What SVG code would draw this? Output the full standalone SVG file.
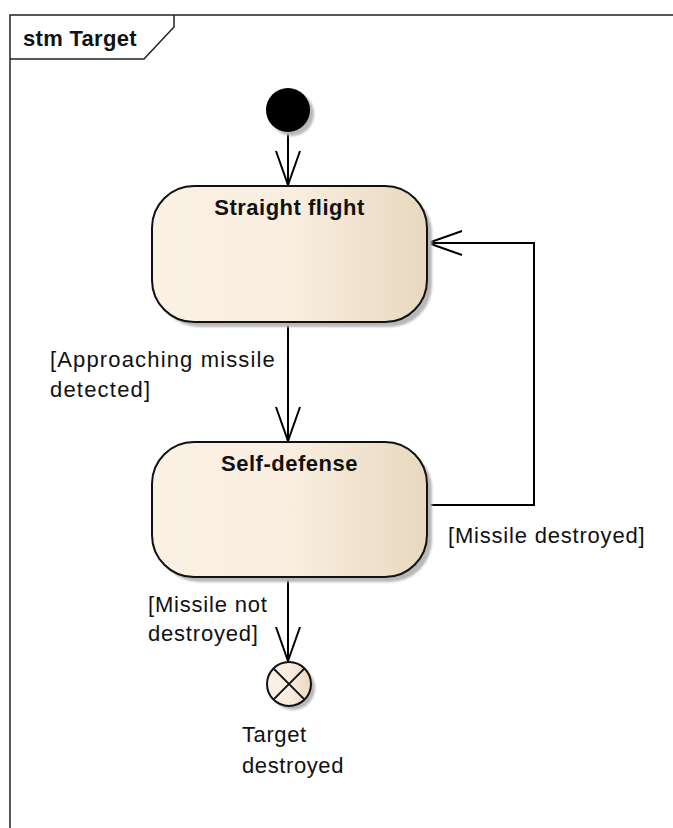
<svg xmlns="http://www.w3.org/2000/svg" width="673" height="828" viewBox="0 0 673 828">
  <style>
    .frame { fill: none; stroke: #222; stroke-width: 1.5; }
    .state { stroke: #111; stroke-width: 2; fill: url(#stateFill); }
    .shadow { fill: #b8b8b8; filter: url(#soft); }
    .edge { fill: none; stroke: #000; stroke-width: 2; }
    .title { font-family: "Liberation Sans", Arial, sans-serif; font-weight: bold; font-size: 22px; fill: #111; letter-spacing: 0.5px; }
    .label { font-family: "Liberation Sans", Arial, sans-serif; font-size: 22px; fill: #111; letter-spacing: 0.8px; }
  </style>
  <defs>
    <linearGradient id="stateFill" x1="0" y1="0" x2="1" y2="0">
      <stop offset="0" stop-color="#FBF1E4"/>
      <stop offset="0.5" stop-color="#F9EEDF"/>
      <stop offset="1" stop-color="#E8D8BF"/>
    </linearGradient>
    <filter id="soft" x="-10%" y="-10%" width="120%" height="120%">
      <feGaussianBlur stdDeviation="1.2"/>
    </filter>
    <marker id="open" markerUnits="userSpaceOnUse" markerWidth="40" markerHeight="30" refX="0" refY="0" orient="auto" viewBox="-36 -15 40 30" overflow="visible">
      <path d="M -34 -12 L 0 0 L -34 12" fill="none" stroke="#000" stroke-width="2"/>
    </marker>
  </defs>

  <!-- diagram frame with name tab -->
  <g id="frame">
    <path class="frame" d="M 10 828 L 10 15 L 673 15"/>
    <path class="frame" d="M 10 59 L 144 59 L 174 27 L 174 15"/>
    <text class="title" x="23" y="46" style="letter-spacing:0.3px">stm Target</text>
  </g>

  <!-- transitions -->
  <g id="connectors">
    <line class="edge" x1="288" y1="132" x2="288" y2="185" marker-end="url(#open)"/>
    <line class="edge" x1="288" y1="323" x2="288" y2="441" marker-end="url(#open)"/>
    <polyline class="edge" points="428,505 534,505 534,243 428,243" marker-end="url(#open)"/>
    <line class="edge" x1="288" y1="578" x2="288" y2="661" marker-end="url(#open)"/>
    <text class="label" x="50" y="367" style="letter-spacing:1.15px">[Approaching missile</text>
    <text class="label" x="50" y="397" style="letter-spacing:1.2px">detected]</text>
    <text class="label" x="448" y="543">[Missile destroyed]</text>
    <text class="label" x="148" y="612">[Missile not</text>
    <text class="label" x="148" y="641">destroyed]</text>
  </g>

  <!-- initial pseudostate -->
  <g id="initial">
    <circle class="shadow" cx="292" cy="114" r="22"/>
    <circle cx="288" cy="110" r="22" fill="#000"/>
  </g>

  <!-- state: Straight flight -->
  <g id="straight-flight">
    <rect class="shadow" x="157" y="191" width="275" height="136" rx="42"/>
    <rect class="state" x="152" y="186" width="275" height="136" rx="42"/>
    <text class="title" x="289.5" y="215" text-anchor="middle">Straight flight</text>
  </g>

  <!-- state: Self-defense -->
  <g id="self-defense">
    <rect class="shadow" x="157" y="447" width="275" height="135" rx="42"/>
    <rect class="state" x="152" y="442" width="275" height="135" rx="42"/>
    <text class="title" x="289.5" y="471" text-anchor="middle">Self-defense</text>
  </g>

  <!-- final state: Target destroyed -->
  <g id="target-destroyed">
    <circle class="shadow" cx="293" cy="688" r="22"/>
    <circle class="state" cx="289" cy="684" r="22"/>
    <path d="M 273.4 668.4 L 304.6 699.6 M 304.6 668.4 L 273.4 699.6" stroke="#111" stroke-width="2"/>
    <text class="label" x="242" y="742" style="letter-spacing:0.6px">Target</text>
    <text class="label" x="242" y="773" style="letter-spacing:0.6px">destroyed</text>
  </g>
</svg>
